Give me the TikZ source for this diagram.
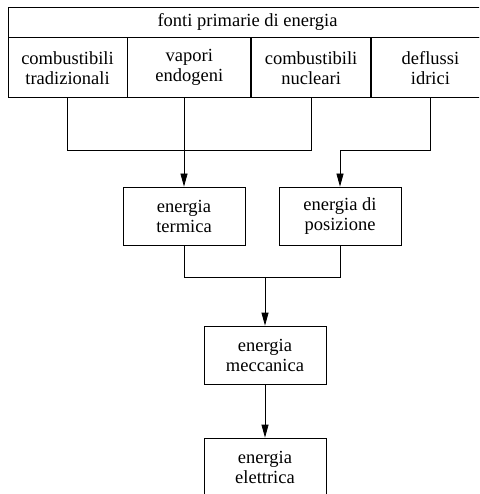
\documentclass[tikz,border=0pt]{standalone}
\usepackage{fontspec}
\setmainfont{Liberation Serif}
\usetikzlibrary{positioning,arrows.meta}

\begin{document}
\begin{tikzpicture}[x=1pt, y=-1pt, line width=0.8pt,
    every node/.style={font=\fontsize{18.5}{20}\selectfont, align=center, inner sep=0pt},
    box/.style={draw, minimum width=122pt, minimum height=58pt},
    cell/.style={draw, minimum width=#1, minimum height=60pt},
    flow/.style={-{Triangle[length=13pt, width=7pt]}}]

    \useasboundingbox (0,0) rectangle (479,494);
    \clip (0,0) rectangle (479,494);

    \node [draw, minimum width=479pt, minimum height=30pt] (fonti) at (247.5,22) {fonti primarie di energia};
    \node [cell=119pt, anchor=north west] (comb) at (fonti.south west) {combustibili\\tradizionali};
    \node [cell=123pt, right=0pt of comb] (vap) {vapori\\endogeni};
    \node [cell=119pt, right=0pt of vap] (nucl) {combustibili\\nucleari};
    \node [cell=118pt, right=0pt of nucl] (idr) {deflussi\\idrici};

    \node [box] (term) at (184,216) {energia\\termica};
    \node [box] (pos) at (340,216) {energia di\\posizione};
    \node [box] (mecc) at (265,355) {energia\\meccanica};
    \node [box] (elet) at (265,467) {energia\\elettrica};

    \coordinate (upjoin) at (0,150);
    \coordinate (midjoin) at (0,277);

    \draw (comb.south) -- (comb.south |- upjoin) -- (nucl.south |- upjoin) -- (nucl.south);
    \draw [flow] (term.north |- vap.south) -- (term.north);
    \draw [flow] (idr.south) -- (idr.south |- upjoin) -| (pos.north);
    \draw (term.south) -- (term.south |- midjoin) -| (pos.south);
    \draw [flow] (mecc.north |- midjoin) -- (mecc.north);
    \draw [flow] (mecc) -- (elet);
\end{tikzpicture}
\end{document}
